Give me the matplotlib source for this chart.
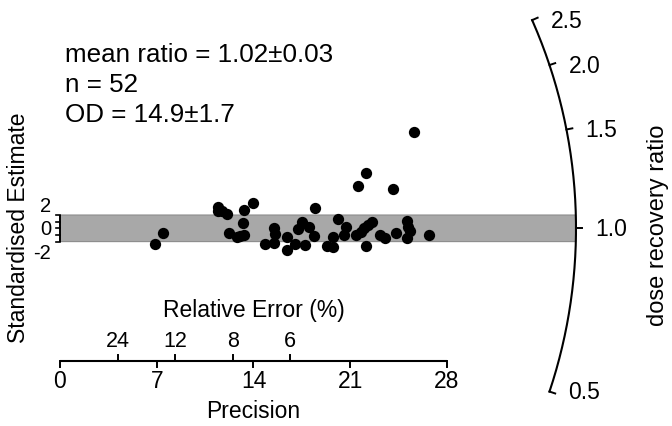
import numpy as np
import matplotlib
matplotlib.use("Agg")
import matplotlib.pyplot as plt
from matplotlib.transforms import blended_transform_factory

plt.rcParams['font.family'] = ['Liberation Sans', 'DejaVu Sans']

# ---------------- data ----------------
precision = [6.91, 7.45, 11.43, 11.40, 12.05, 13.34, 13.97, 13.24, 12.25, 12.79,
             13.35, 14.83, 15.48, 15.56, 15.45, 16.40, 16.40, 17.00, 17.19, 17.49,
             18.02, 17.73, 18.42, 18.38, 19.32, 19.73, 19.78, 20.09, 20.72, 20.53,
             21.58, 22.14, 24.13, 25.62, 21.42, 21.76, 22.00, 22.31, 22.55, 22.14,
             23.15, 23.55, 24.31, 25.09, 25.33, 25.09, 26.68, 11.72, 13.02, 25.18]
std_estimate = [-2.29, -0.78, 3.13, 2.53, 2.15, 2.75, 3.73, 0.75, -0.75, -1.31,
                -1.08, -2.41, -0.03, -0.90, -2.26, -1.35, -3.31, -2.41, -0.14, 0.99,
                0.27, -2.51, 2.98, -1.13, -2.59, -1.26, -2.86, 1.37, 0.24, -1.08,
                6.41, 8.35, 5.86, 14.44, -1.01, -0.51, 0.00, 0.50, 0.99, -2.66,
                -1.08, -1.50, -0.75, 1.10, -0.36, -1.50, -0.96, 2.60, -1.16, 0.20]
precision_ticks = [0, 7, 14, 21, 28]
rel_error_ticks = [24, 12, 8, 6]
y_ticks = [-2, -1, 0, 1, 2]
y_tick_labels = [2, 0, -2]
ratio_ticks = [0.5, 1.0, 1.5, 2.0, 2.5]
ratio_tick_labels = ['0.5', '1.0', '1.5', '2.0', '2.5']
central_ratio = 1.0
stats_lines = ['mean ratio = 1.02\u00b10.03', 'n = 52', 'OD = 14.9\u00b11.7']

# ---------------- layout ----------------
W, H = 672, 426
X0, Y0 = 60.0, 228.3        # pixel position of origin
SX, SY = 13.82, 6.65        # pixels per data unit
R = 516.0                   # arc radius in pixels
K = SY / SX

fig = plt.figure(figsize=(W / 100, H / 100), dpi=100)
ax = fig.add_axes([0, 0, 1, 1])
ax.set_axis_off()

def fy(py):
    return 1 - py / H

def fx(px):
    return px / W

blend = blended_transform_factory(ax.transData, fig.transFigure)

def theta(r):
    return np.arctan(K * np.log(r / central_ratio))

# ---------------- gray band (+-2) ----------------
th_band = np.linspace(np.arcsin(-2 * SY / R), np.arcsin(2 * SY / R), 20)
bx = np.concatenate([[0], R * np.cos(th_band) / SX, [0]])
by = np.concatenate([[-2], R * np.sin(th_band) / SY, [2]])
ax.fill(bx, by, facecolor='#a8a8a8', edgecolor='#8c8c8c', lw=0.8, zorder=1)

# ---------------- points ----------------
ax.scatter(precision, std_estimate, s=66, c='black', linewidths=0, zorder=3)

# ---------------- left bracket axis ----------------
ax.plot([0, 0], [min(y_ticks), max(y_ticks)], color='black', lw=1.4, zorder=2,
        solid_capstyle='butt')
for t in y_ticks:
    ax.plot([-4 / SX, 0], [t, t], color='black', lw=1.2, zorder=2)
for v in y_tick_labels:
    fig.text(fx(51), fy(Y0 - v * 11.8 + 7), str(v), ha='right', va='baseline',
             fontsize=14.5)

# ---------------- bottom axis ----------------
axis_py = 360.5
ax.plot([precision_ticks[0], precision_ticks[-1]], [fy(axis_py)] * 2,
        color='black', lw=1.5, transform=blend, solid_capstyle='butt')
for t in precision_ticks:
    ax.plot([t, t], [fy(axis_py), fy(axis_py + 6)], color='black', lw=1.4,
            transform=blend)
    ax.text(t, fy(388), str(t), ha='center', va='baseline', fontsize=16.5,
            transform=blend)
for re in rel_error_ticks:
    p = 100.0 / re
    ax.plot([p, p], [fy(axis_py), fy(axis_py - 6)], color='black', lw=1.4,
            transform=blend)
    ax.text(p, fy(347), str(re), ha='center', va='baseline', fontsize=15.5,
            transform=blend)
ax.text(14, fy(418), 'Precision', ha='center', va='baseline', fontsize=16.5,
        transform=blend)
ax.text(14, fy(317), 'Relative Error (%)', ha='center', va='baseline',
        fontsize=16.5, transform=blend)

# ---------------- arc (ratio axis) ----------------
th = np.linspace(theta(min(ratio_ticks)), theta(max(ratio_ticks)), 200)
ax.plot(R * np.cos(th) / SX, R * np.sin(th) / SY, color='black', lw=1.5)
for r, lab in zip(ratio_ticks, ratio_tick_labels):
    t = theta(r)
    ax.plot([R * np.cos(t) / SX, (R + 6) * np.cos(t) / SX],
            [R * np.sin(t) / SY, (R + 6) * np.sin(t) / SY], color='black', lw=1.4)
    px = X0 + R * np.cos(t) + 19
    py = Y0 - R * np.sin(t)
    fig.text(fx(px), fy(py + 7.5), lab, ha='left', va='baseline', fontsize=16.5)

# ---------------- labels ----------------
fig.text(fx(19), fy(227.5), 'Standardised Estimate', rotation=90, ha='center',
         va='center', fontsize=16.5)
fig.text(fx(658), fy(225), 'dose recovery ratio', rotation=90, ha='center',
         va='center', fontsize=17)
for i, line in enumerate(stats_lines):
    fig.text(fx(65), fy(62 + 30 * i), line, ha='left', va='baseline', fontsize=18.7)

ax.set_xlim(-X0 / SX, (W - X0) / SX)
ax.set_ylim(-(H - Y0) / SY, Y0 / SY)

fig.savefig('out.png', dpi=100)
